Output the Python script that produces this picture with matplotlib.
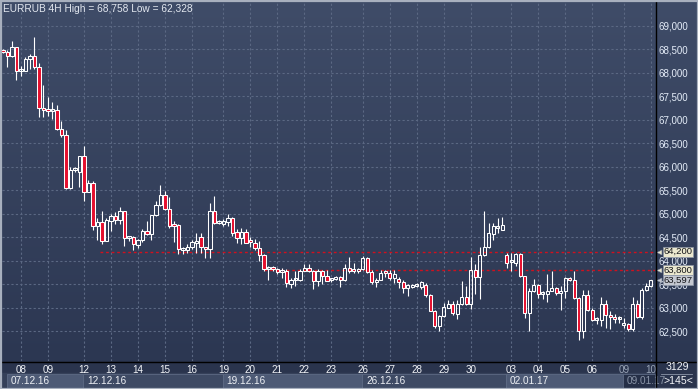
import matplotlib
matplotlib.use("Agg")
import matplotlib.pyplot as plt
import matplotlib.transforms as mtransforms
from matplotlib.colors import LinearSegmentedColormap
from matplotlib.patches import Rectangle
from matplotlib.ticker import FuncFormatter
import numpy as np

# EURRUB 4H candles, bar index -4 .. 140
opens = [68480, 68444, 68359, 68545, 68032, 68045, 68290, 68360, 68117, 67230,
         67200, 67190, 67220, 66815, 66686, 65553, 65940, 65887, 66237, 65468,
         65660, 64754, 64833, 64433, 64860, 64954, 64869, 65062, 64480, 64500,
         64340, 64440, 64634, 64570, 64976, 65196, 65410, 65104, 64760, 64769,
         64240, 64225, 64300, 64380, 64512, 64290, 64255, 65068, 64810, 64790,
         64840, 64912, 64620, 64497, 64620, 64420, 64390, 64283, 64121, 63830,
         63840, 63820, 63760, 63790, 63520, 63590, 63600, 63790, 63850, 63790,
         63572, 63790, 63680, 63590, 63610, 63660, 63590, 63843, 63810, 63780,
         63830, 64057, 63770, 63557, 63600, 63750, 63740, 63640, 63610, 63557,
         63416, 63440, 63470, 63440, 63480, 63266, 62946, 62610, 62820, 63010,
         63075, 62873, 63075, 63230, 63090, 63800, 63657, 64128, 64299, 64570,
         64700, 64656, 64128, 63970, 63950, 64143, 63679, 62895, 63358, 63487,
         63300, 63290, 63370, 63430, 63322, 63370, 63630, 63590, 63215, 62518,
         63273, 62967, 62740, 62740, 63075, 62860, 62810, 62770, 62630, 62660,
         62560, 63087, 62803, 63373, 63465]
highs = [68500, 68487, 68680, 68560, 68145, 68337, 68400, 68758, 68216, 67739,
         67490, 67382, 67312, 66976, 66778, 66008, 65990, 66243, 66436, 65730,
         65709, 64925, 65068, 64912, 65010, 65032, 65138, 65062, 64534, 64530,
         64463, 64677, 64854, 64976, 65267, 65624, 65480, 65367, 64854, 64783,
         64290, 64369, 64440, 64604, 64604, 64300, 65224, 65389, 64870, 64900,
         64997, 64930, 64677, 64710, 64677, 64500, 64470, 64430, 64143, 63890,
         63890, 63860, 63860, 63820, 63640, 63790, 63830, 63929, 63930, 63800,
         63830, 63800, 63800, 63620, 63680, 63680, 63942, 64085, 63960, 63860,
         64106, 64080, 63812, 63630, 63800, 63800, 63800, 63800, 63660, 63590,
         63515, 63510, 63540, 63570, 63540, 63290, 62967, 62860, 63108, 63180,
         63145, 63180, 63572, 63465, 64085, 63929, 64299, 65068, 64818, 64818,
         64912, 64940, 64177, 64177, 64180, 64180, 63690, 63430, 63608, 63500,
         63370, 63715, 63786, 63440, 63465, 63657, 63657, 63786, 63230, 63373,
         63373, 62990, 62800, 63230, 63180, 62946, 62870, 62820, 62790, 62680,
         63230, 63180, 63430, 63536, 63597]
lows = [68420, 68130, 68340, 67846, 67930, 68040, 68081, 68095, 67062, 67062,
        67077, 67027, 66790, 66628, 65540, 65540, 65890, 65566, 65282, 65460,
        64655, 64442, 64369, 64420, 64640, 64784, 64784, 64320, 64427, 64240,
        64270, 64412, 64560, 64442, 64960, 65180, 65090, 64712, 64412, 64143,
        64140, 64160, 64250, 64180, 64177, 64057, 64057, 64783, 64783, 64740,
        64747, 64534, 64390, 64369, 64380, 64300, 64240, 64000, 63785, 63587,
        63790, 63720, 63640, 63444, 63430, 63465, 63580, 63780, 63770, 63395,
        63465, 63500, 63570, 63560, 63590, 63444, 63580, 63750, 63750, 63750,
        63800, 63750, 63500, 63444, 63590, 63660, 63600, 63540, 63420, 63322,
        63251, 63420, 63440, 63400, 63230, 62930, 62574, 62518, 62800, 63000,
        62860, 62775, 63060, 63070, 62989, 63290, 63182, 64106, 64280, 64442,
        64600, 64650, 63856, 63786, 63893, 63660, 62788, 62504, 63340, 63215,
        63200, 63130, 63360, 63270, 62967, 63215, 63570, 63200, 62328, 62360,
        62931, 62717, 62660, 62610, 62574, 62560, 62680, 62680, 62574, 62518,
        62520, 62780, 62775, 63360, 63450]
closes = [68440, 68359, 68545, 68032, 68050, 68288, 68360, 68117, 67263, 67210,
          67190, 67215, 66805, 66686, 65553, 65937, 65960, 66237, 65468, 65660,
          64754, 64833, 64433, 64869, 64954, 64869, 65062, 64484, 64500, 64356,
          64448, 64634, 64570, 64976, 65196, 65410, 65104, 64747, 64740, 64250,
          64260, 64300, 64412, 64430, 64298, 64255, 65068, 64818, 64840, 64850,
          64912, 64604, 64497, 64620, 64390, 64400, 64283, 64121, 63835, 63850,
          63830, 63760, 63780, 63536, 63600, 63600, 63786, 63850, 63790, 63572,
          63790, 63680, 63572, 63600, 63660, 63590, 63843, 63790, 63780, 63830,
          64057, 63770, 63557, 63600, 63750, 63745, 63640, 63730, 63560, 63416,
          63480, 63480, 63480, 63550, 63266, 62946, 62610, 62824, 63016, 63090,
          62895, 63075, 63230, 63090, 63800, 63657, 64128, 64299, 64604, 64740,
          64730, 64769, 63964, 63990, 64143, 63679, 62895, 63358, 63487, 63300,
          63310, 63370, 63430, 63322, 63370, 63630, 63590, 63215, 62518, 63273,
          62967, 62753, 62775, 63075, 62860, 62800, 62770, 62775, 62680, 62560,
          63087, 62803, 63373, 63465, 63597]
bars = np.arange(-4, -4 + len(opens))

day_idx = [0, 6, 14, 20, 26, 32, 38, 45, 51, 57, 63, 69, 76, 82, 88, 94, 100,
           109, 115, 121, 127, 134, 140]
day_labels = ["08", "09", "12", "13", "14", "15", "16", "19", "20", "21", "22",
              "23", "26", "27", "28", "29", "30", "03", "04", "05", "06", "09", "10"]
week_start = [-3.1, 13.8, 44.8, 75.8, 107.8, 133.7]
week_labels = ["07.12.16", "12.12.16", "19.12.16", "26.12.16", "02.01.17", "09.01.17"]
price_ticks = np.arange(62500, 69001, 500)
levels = [64200, 63800]
level_from = [17.6, 54.0]
last_price = 63597
title = "EURRUB 4H High = 68,758 Low = 62,328"

W, H = 698, 389
RED = "#e5102e"
FONT = "Liberation Sans"

fig = plt.figure(figsize=(W / 100, H / 100), dpi=100)
fig.patch.set_facecolor("#2a344d")

# background layer in pixel coordinates
bg = fig.add_axes([0, 0, 1, 1], zorder=0)
bg.set_xlim(0, W)
bg.set_ylim(H, 0)
bg.axis("off")
cmap = LinearSegmentedColormap.from_list("bg", ["#3f4c68", "#2c3752"])
bg.imshow(np.linspace(0, 1, 256).reshape(-1, 1), extent=(0, W, 361, 0),
          aspect="auto", cmap=cmap, interpolation="bilinear")
bg.add_patch(Rectangle((0, 361), W, 28, color="#2a344d"))
bg.add_patch(Rectangle((0, 373), 655, 15, color="#354059"))

# main price axes
ax = fig.add_axes([2 / W, 28 / H, 653 / W, 358 / H], zorder=1)
ax.set_facecolor("none")
ax.set_xlim(-4.22, 140.9)
ax.set_ylim(61872, 69489)
for s in ax.spines.values():
    s.set_visible(False)

grid_kw = dict(color="#5b6883", lw=0.8, dashes=(2, 2), zorder=0.5)
for p in price_ticks:
    ax.axhline(p, **grid_kw)
for d in day_idx:
    ax.axvline(d, **grid_kw)

for lv, x0 in zip(levels, level_from):
    ax.hlines(lv, x0, 141, color="#d0101e", lw=1.0, linestyles=(0, (2, 2)), zorder=1)

o = np.array(opens)
c = np.array(closes)
hi = np.array(highs)
lo = np.array(lows)
top = np.maximum(o, c)
bot = np.minimum(o, c)
height = np.maximum(top - bot, 45)
ax.vlines(bars, top, hi, color="white", lw=0.8, zorder=2)
ax.vlines(bars, lo, bot, color="white", lw=0.8, zorder=2)
face = [RED if cc < oo else "none" for oo, cc in zip(o, c)]
ax.bar(bars, height, bottom=bot, width=0.68, color=face, edgecolor="white",
       linewidth=0.75, zorder=3)

ax.yaxis.tick_right()
ax.set_yticks(price_ticks)
ax.yaxis.set_major_formatter(FuncFormatter(lambda v, _: f"{v:,.0f}"))
ax.tick_params(axis="y", length=0, pad=2.2, labelsize=7.0, labelcolor="#e4ecf8")
ax.set_xticks(day_idx)
ax.set_xticklabels(day_labels)
ax.tick_params(axis="x", length=0, pad=3, labelsize=7.1, labelcolor="#f2f4f8")
for lab in ax.get_yticklabels() + ax.get_xticklabels():
    lab.set_fontfamily(FONT)
for lab in ax.get_xticklabels()[-2:]:
    lab.set_color("#9aa5b7")

# week boxes under the day labels
xb = mtransforms.blended_transform_factory(ax.transData, ax.transAxes)
week_end = week_start[1:] + [140.9]
week_fc = ["#4d5a75", "#3e4a64", "#4d5a75", "#3e4a64", "#4d5a75", "#252f47"]
for i, (x0, x1, lab) in enumerate(zip(week_start, week_end, week_labels)):
    box = Rectangle((x0, -0.0363), x1 - x0, -0.039, transform=xb, clip_on=False,
                    facecolor=week_fc[i], edgecolor="#5d6a84", lw=0.6, zorder=1)
    ax.add_patch(box)
    t = ax.text(x0 + 0.9, -0.0565, lab, transform=xb, ha="left", va="center",
                fontsize=7.2, family=FONT,
                color="#8a95a8" if i == len(week_labels) - 1 else "#eef1f6", zorder=2)
    t.set_clip_path(box)

# price tags on the right
yb = mtransforms.blended_transform_factory(ax.transAxes, ax.transData)
tag_fc = ["#ebe8cf", "#ebe8cf", "#c4c8d1"]
for val, fc in zip(levels + [last_price], tag_fc):
    ax.text(1.0125, val, f"{val:,.0f}", transform=yb, ha="left", va="center",
            fontsize=6.8, family=FONT, color="#15161a", clip_on=False, zorder=6,
            bbox=dict(boxstyle="square,pad=0.06", fc=fc, ec="#8d96a6", lw=0.5))
    ax.plot([1.0055], [val], marker="<", ms=3.5, color=fc, mec="#8d96a6", mew=0.4,
            transform=yb, clip_on=False, zorder=6)

# frame, separators and labels in pixel coordinates
ov = fig.add_axes([0, 0, 1, 1], zorder=3)
ov.set_xlim(0, W)
ov.set_ylim(H, 0)
ov.axis("off")
ov.plot([655.5, 655.5], [2, H], color="black", lw=1.0)
ov.plot([2, W], [361.5, 361.5], color="black", lw=1.0)
ov.plot([0.5, W - 0.5, W - 0.5, 0.5, 0.5], [1, 1, H - 0.5, H - 0.5, 1],
        color="#a8b0be", lw=1.6)
ov.plot([661, 692], [374, 374], color="#8c96a8", lw=0.6)
ov.text(677, 367.5, "3129", ha="center", va="center", fontsize=7.6, family=FONT,
        color="#f2f4f8")
ov.text(678, 381, ">145<", ha="center", va="center", fontsize=7.6, family=FONT,
        color="#f2f4f8")
ov.text(3, 8.5, title, ha="left", va="center", fontsize=7.3, family=FONT,
        color="#e3e8f0")

fig.savefig("out.png", dpi=100, facecolor=fig.get_facecolor())
